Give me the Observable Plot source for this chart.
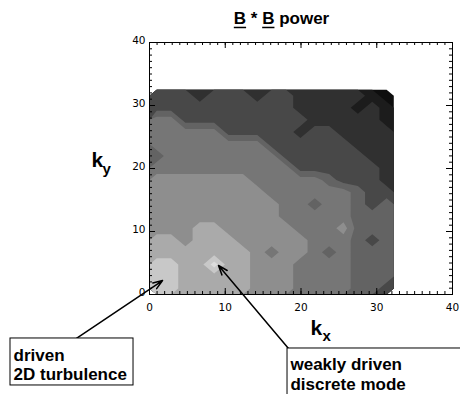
<!DOCTYPE html>
<html><head><meta charset="utf-8">
<script src="https://cdn.jsdelivr.net/npm/d3@7"></script>
<script src="https://cdn.jsdelivr.net/npm/@observablehq/plot@0.6"></script>
<style>html,body{margin:0;padding:0;background:#fff;overflow:hidden}</style>
</head><body><div id="chart"></div>
<script>
// ---- data ----
const titleParts = [["B", true], [" * ", false], ["B", true], [" power", false]];
const titleSpec = [{text: "B * B power", x: 17.43, y: 42.86}];
const majorTicks = [0, 10, 20, 30, 40];
const minorTicks = [0,1,2,3,4,5,6,7,8,9,10,11,12,13,14,15,16,17,18,19,20,21,22,23,24,25,26,27,28,29,30,31,32,33,34,35,36,37,38,39,40];
const tickLabels = ["0", "10", "20", "30", "40"];

// power level (0 = darkest ... 9 = lightest), rows from ky≈32 (top) down to ky≈0
const levelRows = [
  [3,3,3,2,3,3,3,2,3,3,2,2,2,2,2,1,0],
  [3,3,3,3,3,3,3,3,3,3,2,2,2,2,1,2,1],
  [5,5,3,3,3,3,3,3,3,3,3,2,2,2,2,2,1],
  [5,5,5,5,5,3,3,3,3,3,2,3,3,2,2,2,2],
  [5,5,5,5,5,5,5,5,3,3,3,3,3,3,2,2,2],
  [4,5,5,5,5,5,5,5,5,3,3,3,3,3,3,2,2],
  [5,5,5,5,5,5,5,5,5,5,3,3,3,3,3,3,2],
  [6,6,6,6,6,6,6,5,5,5,5,5,4,3,3,3,2],
  [6,6,6,6,6,6,6,6,5,5,5,5,5,5,4,3,3],
  [6,6,6,6,6,6,6,6,6,5,5,4,5,5,4,3,4],
  [6,6,6,6,6,6,6,6,6,5,5,5,5,5,4,4,4],
  [6,6,6,7,7,6,6,6,6,6,5,5,5,6,4,4,4],
  [7,7,6,7,7,7,6,6,6,6,6,5,5,5,4,3,4],
  [7,7,7,7,7,7,7,6,5,6,6,5,4,5,4,4,4],
  [8,8,7,7,9,7,7,6,6,6,5,5,5,5,4,4,4],
  [8,8,7,7,7,7,7,6,6,6,5,5,5,5,4,4,4],
  [8,8,7,7,7,7,7,6,6,6,5,5,5,5,4,4,3]
];
const levelThresholds = [-0.5,0.5,1.5,2.5,3.5,4.5,5.5,6.5,7.5,8.5];
const levelBreaks = [0,1,2,3,4,5,6,7,8];
const levelColors = ["#0e0e0e","#1c1c1c","#303030","#484848","#636363","#767676","#8e8e8e","#aaaaaa","#c8c8c8","#dcdcdc"];
const gridExtent = {x1: 0, x2: 32.25, y1: 32.5, y2: 0};

const axisLabels = [
  {text: "k", x: -7.66, y: 20.16, size: 21},
  {text: "y", x: -6.2, y: 19.2, size: 15},
  {text: "k", x: 21.25, y: -6.35, size: 21},
  {text: "x", x: 22.84, y: -7.46, size: 15}
];
const boxes = [
  {x1: -18.35, x2: -2.11, y1: -6.98, y2: -14.44},
  {x1: 18.22, x2: 42.4, y1: -8.57, y2: -16.8}
];
const arrows = [
  {x1: -9.64, y1: -6.98, x2: 1.72, y2: 2.22},
  {x1: 18.35, y1: -8.57, x2: 9.11, y2: 4.60}
];
const noteLines = [
  {text: "driven", x: -17.95, y: -10.5},
  {text: "2D turbulence", x: -17.95, y: -13.52},
  {text: "weakly driven", x: 18.61, y: -12.05},
  {text: "discrete mode", x: 18.61, y: -15.08}
];

// ---- layout ----
const W = 460, H = 394, mL = 149, mR = 8, mT = 42, mB = 100;
const fw = W - mL - mR, fh = H - mT - mB;
const minorLen = 3, majorLen = 6;
const font = "Liberation Sans, Arial, Helvetica, sans-serif";

const chart = Plot.plot({
  width: W, height: H,
  marginLeft: mL, marginRight: mR, marginTop: mT, marginBottom: mB,
  x: {domain: [0, 40], axis: null},
  y: {domain: [0, 40], axis: null},
  color: {type: "threshold", domain: levelBreaks, range: levelColors},
  style: {fontFamily: font, background: "white", color: "black"},
  marks: [
    Plot.contour(levelRows.flat(), {
      width: 17, height: 17, ...gridExtent,
      value: Plot.identity, fill: "value", stroke: "none",
      thresholds: levelThresholds
    }),
    Plot.frame({stroke: "black", strokeWidth: 1}),
    // inward ticks on all four sides
    Plot.tickX(minorTicks, {x: d => d, insetTop: fh - minorLen, stroke: "black"}),
    Plot.tickX(minorTicks, {x: d => d, insetBottom: fh - minorLen, stroke: "black"}),
    Plot.tickY(minorTicks, {y: d => d, insetRight: fw - minorLen, stroke: "black"}),
    Plot.tickY(minorTicks, {y: d => d, insetLeft: fw - minorLen, stroke: "black"}),
    Plot.tickX(majorTicks, {x: d => d, insetTop: fh - majorLen, stroke: "black"}),
    Plot.tickX(majorTicks, {x: d => d, insetBottom: fh - majorLen, stroke: "black"}),
    Plot.tickY(majorTicks, {y: d => d, insetRight: fw - majorLen, stroke: "black"}),
    Plot.tickY(majorTicks, {y: d => d, insetLeft: fw - majorLen, stroke: "black"}),
    Plot.text(majorTicks, {x: d => d, frameAnchor: "bottom", dy: 16, lineAnchor: "bottom",
      text: (d, i) => tickLabels[i], fontSize: 10.5, fontFamily: "DejaVu Sans", fill: "black"}),
    Plot.text(majorTicks, {y: d => d, frameAnchor: "left", dx: -4, dy: -2, textAnchor: "end",
      text: (d, i) => tickLabels[i], fontSize: 10.5, fontFamily: "DejaVu Sans", fill: "black"}),
    Plot.text(titleSpec, {x: "x", y: "y", text: "text", lineAnchor: "bottom", textAnchor: "middle",
      fontSize: 17, fontWeight: "bold", fill: "black"}),
    Plot.text(axisLabels, {x: "x", y: "y", text: "text", fontSize: "size", lineAnchor: "bottom",
      textAnchor: "start", fontWeight: "bold", fill: "black"}),
    Plot.arrow(arrows, {x1: "x1", y1: "y1", x2: "x2", y2: "y2", stroke: "black", strokeWidth: 1.5,
      headLength: 10, headAngle: 40}),
    Plot.rect(boxes, {x1: "x1", x2: "x2", y1: "y1", y2: "y2", fill: "white", stroke: "black", strokeWidth: 1}),
    Plot.text(noteLines, {x: "x", y: "y", text: "text", lineAnchor: "bottom", textAnchor: "start",
      fontSize: 17, fontWeight: "bold", fill: "black"})
  ]
});
document.getElementById("chart").appendChild(chart);

// underline the B's in the title
const ns = "http://www.w3.org/2000/svg";
const tnode = Array.from(chart.querySelectorAll("text")).find(t => t.textContent === titleSpec[0].text);
if (tnode) {
  tnode.textContent = "";
  tnode.style.whiteSpace = "pre";
  const spans = [];
  for (const [s, u] of titleParts) {
    const ts = document.createElementNS(ns, "tspan");
    ts.textContent = s;
    tnode.appendChild(ts);
    spans.push([ts, u]);
  }
  const g = tnode.parentNode;
  const tr = tnode.getAttribute("transform");
  for (const [ts, u] of spans) {
    if (!u) continue;
    const n = ts.getNumberOfChars();
    const start = tnode.getStartPositionOfChar(spans.slice(0, spans.findIndex(s => s[0] === ts)).reduce((a, s) => a + s[0].getNumberOfChars(), 0));
    const ext = ts.getComputedTextLength();
    const ln = document.createElementNS(ns, "line");
    const yy = start.y + 3;
    ln.setAttribute("x1", start.x); ln.setAttribute("x2", start.x + ext);
    ln.setAttribute("y1", yy); ln.setAttribute("y2", yy);
    ln.setAttribute("stroke", "black"); ln.setAttribute("stroke-width", "1.5");
    if (tr) ln.setAttribute("transform", tr);
    g.appendChild(ln);
  }
}
</script>
</body></html>
